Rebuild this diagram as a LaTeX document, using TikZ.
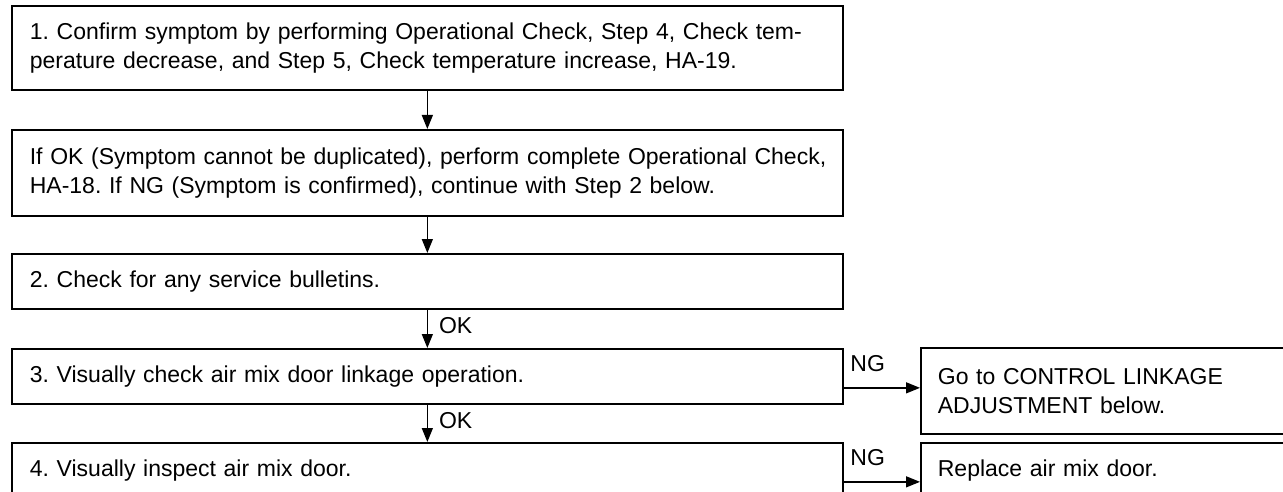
\documentclass[tikz,border=0pt]{standalone}
\usepackage{fontspec}
\setmainfont{Liberation Sans}
\usetikzlibrary{arrows.meta,calc}
\begin{document}
\frenchspacing
\begin{tikzpicture}[x=1pt,y=-1pt,
  txt/.style={font=\fontsize{23pt}{29pt}\selectfont\frenchspacing},
  box/.style={txt, draw, line width=1.7pt, anchor=north west, inner xsep=18pt, inner ysep=0pt,
              text width=795pt, align=left, minimum height=#1},
  sidebox/.style={txt, draw, line width=1.7pt, anchor=north west, inner xsep=17pt, inner ysep=0pt,
              text width=466pt, align=left, minimum height=#1},
  arr/.style={line width=1.4pt, -{Triangle[length=14pt,width=11pt]}},
  oklbl/.style={txt, midway, anchor=west, inner sep=0pt, xshift=11pt, yshift=3pt},
  nglbl/.style={txt, pos=0, anchor=south west, inner sep=0pt, xshift=6pt, yshift=15pt}
]
\useasboundingbox (0,0) rectangle (1283,492);
\clip (0,0) rectangle (1283,492);
\fill[white] (0,0) rectangle (1283,492);

\node[box=84pt] (b1) at (11,5) {\mbox{1. Confirm symptom by performing Operational Check, Step 4, Check tem-}\\\mbox{perature decrease, and Step 5, Check temperature increase, HA-19.}};
\node[box=86pt] (b2) at (11,129) {\mbox{If OK (Symptom cannot be duplicated), perform complete Operational Check,}\\\mbox{HA-18. If NG (Symptom is confirmed), continue with Step 2 below.}};
\node[box=55pt] (s2) at (11,253) {2. Check for any service bulletins.};
\node[box=55pt] (s3) at (11,348) {3. Visually check air mix door linkage operation.};
\node[box=55pt] (s4) at (11,442) {4. Visually inspect air mix door.};
\node[sidebox=86pt] (r1) at (920,347) {Go to CONTROL LINKAGE\\ADJUSTMENT below.};
\node[sidebox=55pt] (r2) at (920,442) {Replace air mix door.};

\draw[arr] (b1.south) -- (b2.north);
\draw[arr] (b2.south) -- (s2.north);
\draw[arr] (s2.south) -- node[oklbl]{OK} (s3.north);
\draw[arr] (s3.south) -- node[oklbl]{OK} (s4.north);
\draw[arr] ([yshift=-11.5pt]s3.east) -- ([yshift=-11.5pt]s3.east -| r1.west) node[nglbl]{NG};
\draw[arr] ([yshift=-11.5pt]s4.east) -- ([yshift=-11.5pt]s4.east -| r2.west) node[nglbl]{NG};
\end{tikzpicture}
\end{document}
